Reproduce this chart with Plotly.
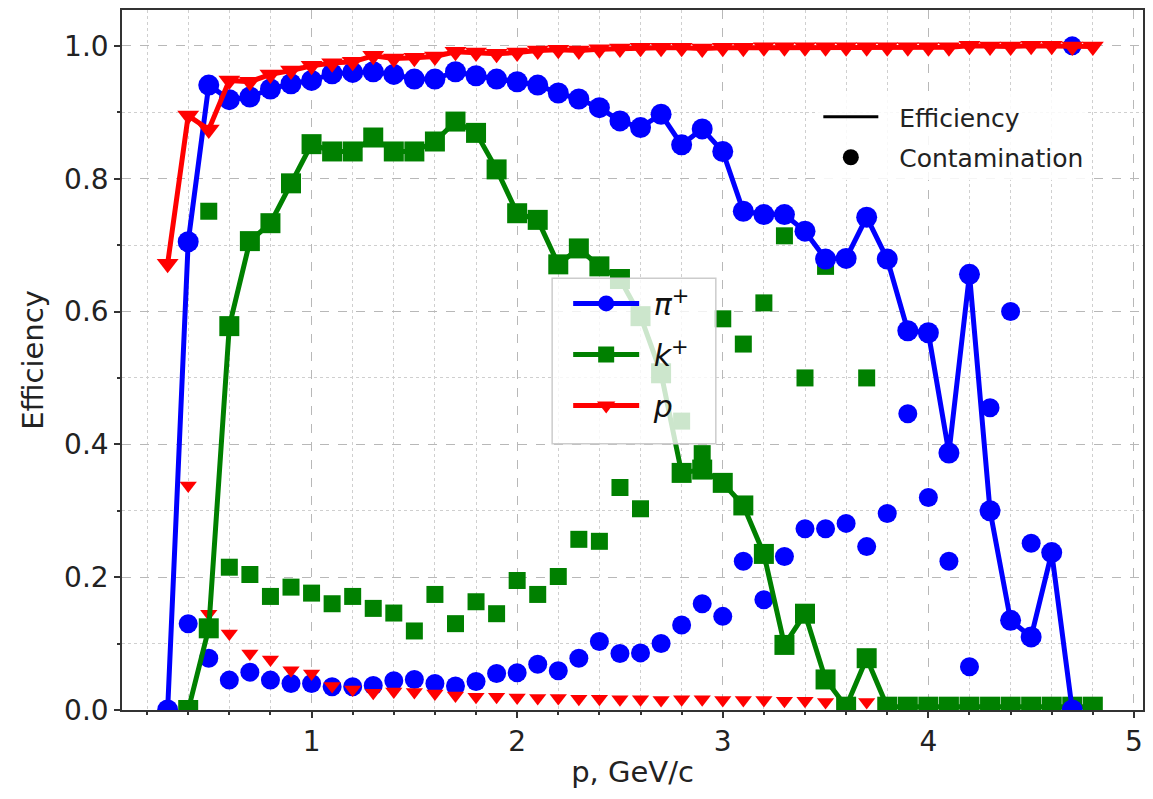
import plotly.graph_objects as go

# Momentum bins (GeV/c)
p = [0.3, 0.4, 0.5, 0.6, 0.7, 0.8, 0.9, 1.0, 1.1, 1.2, 1.3, 1.4, 1.5, 1.6, 1.7, 1.8,
     1.9, 2.0, 2.1, 2.2, 2.3, 2.4, 2.5, 2.6, 2.7, 2.8, 2.9, 3.0, 3.1, 3.2, 3.3, 3.4,
     3.5, 3.6, 3.7, 3.8, 3.9, 4.0, 4.1, 4.2, 4.3, 4.4, 4.5, 4.6, 4.7, 4.8]

# Identification efficiency per species
pion_eff = [0.0, 0.705, 0.941, 0.919, 0.923, 0.935, 0.943, 0.948, 0.958, 0.960, 0.961,
            0.957, 0.950, 0.950, 0.961, 0.955, 0.950, 0.946, 0.941, 0.929, 0.920, 0.907,
            0.887, 0.877, 0.897, 0.851, 0.875, 0.841, 0.751, 0.746, 0.746, 0.721, 0.679,
            0.680, 0.742, 0.679, 0.571, 0.568, 0.387, 0.656, 0.300, 0.135, 0.110, 0.237,
            0.0, None]
kaon_eff = [None, 0.0, 0.123, 0.578, 0.706, 0.733, 0.793, 0.852, 0.841, 0.841, 0.862,
            0.841, 0.841, 0.856, 0.886, 0.869, 0.814, 0.748, 0.738, 0.671, 0.695, 0.668,
            0.649, 0.593, 0.507, 0.357, 0.362, 0.342, 0.308, 0.235, 0.098, 0.145, 0.046,
            0.005, 0.078, 0.005, 0.005, 0.005, 0.005, 0.005, 0.005, 0.005, 0.005, 0.005,
            0.005, 0.005]
proton_eff = [0.672, 0.895, 0.874, 0.948, 0.946, 0.957, 0.963, 0.970, 0.974, 0.976, 0.985,
              0.981, 0.982, 0.984, 0.991, 0.990, 0.988, 0.990, 0.993, 0.994, 0.993, 0.995,
              0.996, 0.997, 0.997, 0.997, 0.996, 0.997, 0.997, 0.998, 0.998, 0.998, 0.998,
              0.998, 0.998, 0.998, 0.998, 0.998, 0.998, 1.0, 0.999, 0.999, 1.0, 1.0,
              0.999, 0.999]

# Contamination per species
pion_cont = [None, 0.130, 0.078, 0.045, 0.057, 0.045, 0.040, 0.040, 0.035, 0.035, 0.037,
             0.044, 0.046, 0.040, 0.036, 0.043, 0.055, 0.056, 0.069, 0.059, 0.078, 0.103,
             0.085, 0.086, 0.100, 0.128, 0.160, 0.141, 0.224, 0.166, 0.231, 0.273, 0.273,
             0.281, 0.246, 0.296, 0.446, 0.320, 0.224, 0.065, 0.455, 0.600, 0.251, None,
             1.0, None]
kaon_cont = [None, None, 0.751, 0.215, 0.204, 0.171, 0.185, 0.176, 0.160, 0.171, 0.153,
             0.146, 0.119, 0.174, 0.130, 0.163, 0.145, 0.195, 0.174, 0.201, 0.257, 0.254,
             0.335, 0.303, None, 0.435, 0.386, 0.589, 0.551, 0.613, 0.714, 0.500, 0.668,
             None, 0.500, None, None, None, None, None, None, None, None, None, None, None]
proton_cont = [None, 0.338, 0.145, 0.115, 0.085, 0.076, 0.060, 0.055, 0.036, 0.031, 0.026,
               0.028, 0.027, 0.025, 0.022, 0.020, 0.020, 0.019, 0.018, 0.018, 0.017, 0.017,
               0.016, 0.016, 0.015, 0.016, 0.016, 0.015, 0.015, 0.015, 0.014, 0.014, 0.012,
               0.012, 0.012, 0.010, 0.010, 0.010, 0.010, 0.010, 0.012, 0.010, 0.010, 0.012,
               0.010, 0.010]

BLUE, GREEN, RED = "#0000ff", "#008000", "#ff0000"
FONT = "DejaVu Sans"
NB = "\u00a0"

fig = go.Figure()

# Contamination markers (drawn underneath)
fig.add_trace(go.Scatter(x=p, y=pion_cont, mode="markers", showlegend=False,
                         marker=dict(symbol="circle", size=19, color=BLUE)))
fig.add_trace(go.Scatter(x=p, y=kaon_cont, mode="markers", showlegend=False,
                         marker=dict(symbol="square", size=17, color=GREEN)))
fig.add_trace(go.Scatter(x=p, y=proton_cont, mode="markers", showlegend=False,
                         marker=dict(symbol="triangle-down", size=15, color=RED)))

# Efficiency curves
fig.add_trace(go.Scatter(x=p, y=kaon_eff, mode="lines+markers",
                         name=NB + "<i>k</i><sup>+</sup>",
                         legendrank=2, legendgroup="k",
                         line=dict(color=GREEN, width=5),
                         marker=dict(symbol="square", size=20, color=GREEN)))
fig.add_trace(go.Scatter(x=p, y=pion_eff, mode="lines+markers",
                         name=NB + "<i>π</i><sup>+</sup>",
                         legendrank=1, legendgroup="pi",
                         line=dict(color=BLUE, width=5),
                         marker=dict(symbol="circle", size=21, color=BLUE)))
fig.add_trace(go.Scatter(x=p, y=proton_eff, mode="lines+markers",
                         name=NB + "<i>p</i>",
                         legendrank=3, legendgroup="p",
                         line=dict(color=RED, width=5),
                         marker=dict(symbol="triangle-down", size=19, color=RED)))

# Style key: line = efficiency, dot = contamination
fig.add_trace(go.Scatter(x=[None], y=[None], mode="lines", name=NB * 2 + "Efficiency",
                         legend="legend2", legendgroup="eff",
                         line=dict(color="black", width=3)))
fig.add_trace(go.Scatter(x=[None], y=[None], mode="markers", name=NB * 2 + "Contamination",
                         legend="legend2", legendgroup="cont",
                         marker=dict(symbol="circle", size=16, color="black")))

axis_common = dict(
    showline=True, mirror=True, linecolor="#333333", linewidth=1.5,
    ticks="outside", ticklen=6, tickwidth=1.5, tickcolor="#333333",
    tickfont=dict(family=FONT, size=28, color="#222222"),
    showgrid=True, gridcolor="#b8b8b8", gridwidth=1, griddash="dash",
    zeroline=False,
)

fig.update_layout(
    width=1153, height=799,
    margin=dict(l=122, r=8, t=8, b=89),
    paper_bgcolor="white", plot_bgcolor="white",
    font=dict(family=FONT, color="#222222"),
    xaxis=dict(
        range=[0.078, 5.044], tick0=0, dtick=1,
        title=dict(text="p, GeV/c", font=dict(family=FONT, size=29), standoff=4),
        minor=dict(tick0=0, dtick=0.2, ticks="outside", ticklen=3, tickcolor="#333333",
                   showgrid=True, gridcolor="#cfcfcf", griddash="dot", gridwidth=1),
        **axis_common,
    ),
    yaxis=dict(
        range=[0, 1.054], tick0=0, dtick=0.2, tickformat=".1f",
        title=dict(text="Efficiency", font=dict(family=FONT, size=29), standoff=12),
        minor=dict(tick0=0, dtick=0.1, ticks="outside", ticklen=3, tickcolor="#333333",
                   showgrid=True, gridcolor="#cfcfcf", griddash="dot", gridwidth=1),
        **axis_common,
    ),
    # frame behind the species key, drawn over the curves
    shapes=[dict(
        type="rect", xref="paper", yref="paper", layer="above",
        x0=0.4213, x1=0.5816, y0=0.3803, y1=0.6168,
        fillcolor="rgba(255,255,255,0.8)", line=dict(color="#cccccc", width=1.5),
    )],
    legend=dict(
        x=0.437, y=0.618, xanchor="left", yanchor="top",
        bgcolor="rgba(0,0,0,0)", borderwidth=0,
        font=dict(family=FONT, size=30, color="#111111"),
        itemwidth=66, tracegroupgap=9,
    ),
    legend2=dict(
        x=0.682, y=0.880, xanchor="left", yanchor="top",
        bgcolor="rgba(255,255,255,0.85)", borderwidth=0,
        font=dict(family=FONT, size=25, color="#222222"),
        itemwidth=55, tracegroupgap=5,
    ),
)

fig.write_html("out.html")
